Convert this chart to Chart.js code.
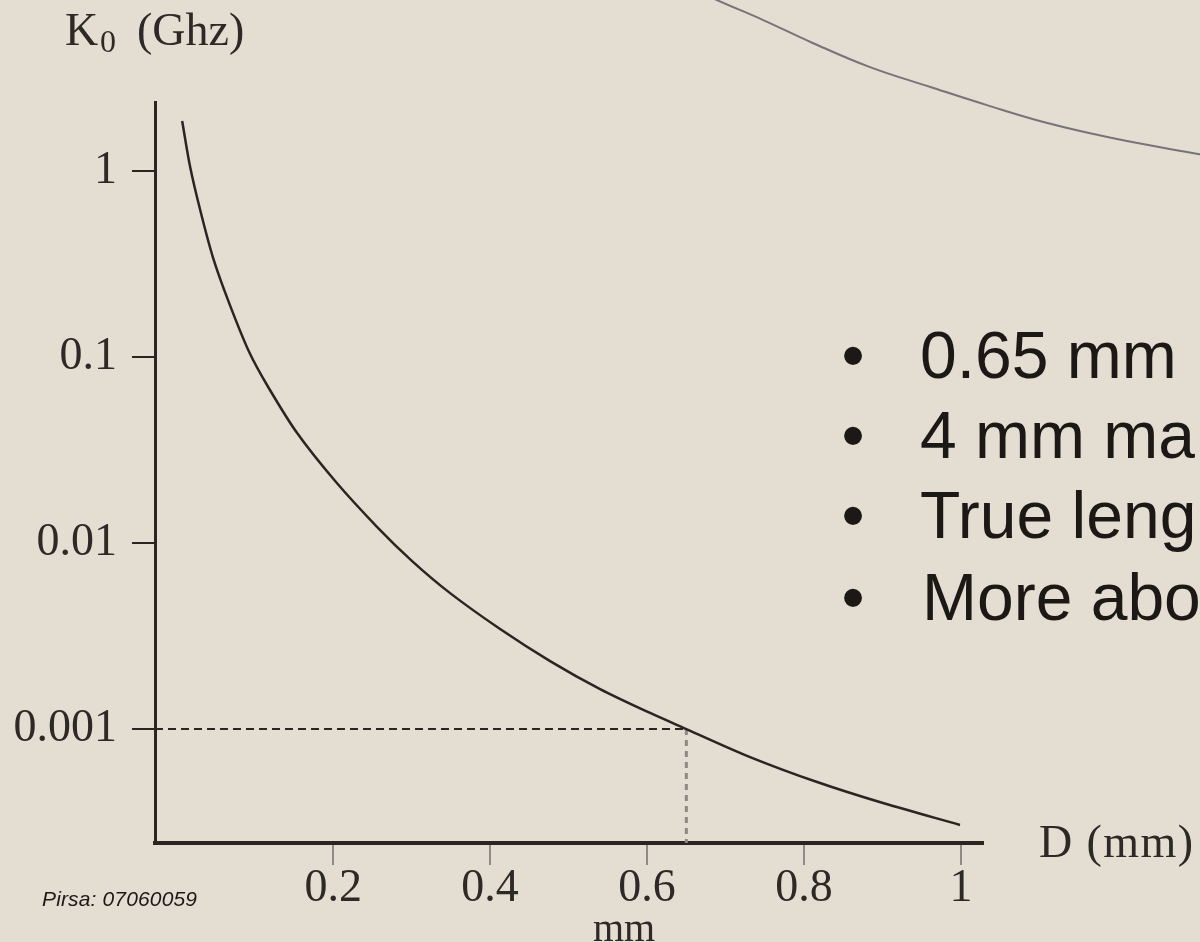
<!DOCTYPE html>
<html>
<head>
<meta charset="utf-8">
<script src="https://cdn.jsdelivr.net/npm/chart.js@4"></script>
<style>
  html, body { margin: 0; padding: 0; background: #e4ddd2; }
  #wrap { position: relative; width: 1200px; height: 942px; overflow: hidden; }
  #wrap canvas, #notes { position: absolute; left: 0; top: 0; }
  .serif { font-family: "Liberation Serif", "Times New Roman", serif; fill: #2d2926; }
  .sans { font-family: "Liberation Sans", Arial, sans-serif; fill: #1b1816; }
</style>
</head>
<body>
<div id="wrap">
  <canvas id="chart" width="1200" height="942"></canvas>
  <svg id="notes" width="1200" height="942">
    <text class="serif" y="45" font-size="46">
      <tspan x="65">K</tspan><tspan x="100" dy="7" font-size="32">0</tspan><tspan x="137" dy="-7">(Ghz)</tspan>
    </text>
    <text class="serif" x="1039" y="857" font-size="46" textLength="154">D (mm)</text>
    <text class="serif" x="593" y="941" font-size="40">mm</text>
    <text class="sans" x="42" y="906" font-size="21" font-style="italic" textLength="155">Pirsa: 07060059</text>

    <text class="sans" x="853" y="378" font-size="66" text-anchor="middle">•</text>
    <text class="sans" x="920" y="378" font-size="66">0.65 mm</text>
    <text class="sans" x="853" y="458" font-size="66" text-anchor="middle">•</text>
    <text class="sans" x="920" y="458" font-size="66">4 mm ma</text>
    <text class="sans" x="853" y="538" font-size="66" text-anchor="middle">•</text>
    <text class="sans" x="920" y="538" font-size="66">True leng</text>
    <text class="sans" x="853" y="620" font-size="66" text-anchor="middle">•</text>
    <text class="sans" x="922" y="620" font-size="66">More abo</text>
  </svg>
</div>
<script>
// curve: D (mm) vs K0 (GHz)
const dMm   = [0.0076, 0.0178, 0.0306, 0.0471, 0.0675, 0.093, 0.1172, 0.1541, 0.2025, 0.2561, 0.3006,
               0.349, 0.4127, 0.4764, 0.5401, 0.6038, 0.65, 0.7312, 0.8166, 0.9006, 0.9987];
const k0Ghz = [1.857, 1.051, 0.617, 0.3405, 0.195, 0.1064, 0.069, 0.039, 0.02154, 0.01219, 0.008,
               0.00538, 0.00345, 0.00232, 0.00164, 0.00122, 0.001, 0.000707, 0.000519, 0.0004, 0.000305];

// marked point (dashed guides)
const markD = 0.65;
const markK = 0.001;

// tick labels
const xTicks = [0.2, 0.4, 0.6, 0.8, 1];
const yTicks = [1, 0.1, 0.01, 0.001];

// piece of another figure at the top right of the slide
const arcD = [0.668, 0.689, 0.748, 0.811, 0.884, 0.961, 1.033, 1.110, 1.194, 1.304, 1.324];
const arcK = [9.17, 8.30, 6.48, 4.88, 3.62, 2.83, 2.26, 1.81, 1.50, 1.23, 1.19];

const X_MIN = -0.027, X_MAX = 1.028;
const Y_MIN = 0.000244, Y_MAX = 2.35;

const ink = '#2a2523';
const serifFont = { family: '"Liberation Serif", "Times New Roman", serif', size: 46 };

const toPoints = (xs, ys) => xs.map((x, i) => ({ x: x, y: ys[i] }));

new Chart(document.getElementById('chart'), {
  type: 'line',
  data: {
    datasets: [
      {
        data: toPoints(dMm, k0Ghz),
        borderColor: ink,
        borderWidth: 2.5,
        pointRadius: 0,
        tension: 0.3
      },
      {
        data: [{ x: X_MIN, y: markK }, { x: markD, y: markK }],
        borderColor: ink,
        borderWidth: 2,
        borderDash: [8, 5],
        pointRadius: 0
      },
      {
        data: [{ x: markD, y: markK }, { x: markD, y: Y_MIN }],
        borderColor: '#8c8884',
        borderWidth: 3,
        borderDash: [6, 5],
        pointRadius: 0
      },
      {
        data: toPoints(arcD, arcK),
        xAxisID: 'xa',
        yAxisID: 'ya',
        borderColor: '#77737a',
        borderWidth: 2,
        pointRadius: 0,
        tension: 0.4,
        clip: false
      }
    ]
  },
  options: {
    responsive: false,
    devicePixelRatio: 1,
    animation: false,
    layout: { padding: { left: 0, top: 102, right: 217, bottom: 0 } },
    plugins: { legend: { display: false }, tooltip: { enabled: false } },
    scales: {
      x: {
        type: 'linear',
        min: X_MIN,
        max: X_MAX,
        afterBuildTicks: s => { s.ticks = xTicks.map(v => ({ value: v })); },
        afterFit: s => { s.height = 99; },
        border: { color: ink, width: 4 },
        grid: { drawOnChartArea: false, tickLength: 22, color: '#8f8a86', lineWidth: 2 },
        ticks: {
          font: serifFont,
          color: '#2d2926',
          padding: -4,
          autoSkip: false,
          maxRotation: 0,
          callback: v => String(v)
        }
      },
      y: {
        type: 'logarithmic',
        min: Y_MIN,
        max: Y_MAX,
        afterBuildTicks: s => { s.ticks = yTicks.map(v => ({ value: v })); },
        afterFit: s => { s.width = 155; },
        border: { color: ink, width: 3 },
        grid: { drawOnChartArea: false, tickLength: 23, color: ink, lineWidth: 2 },
        ticks: {
          font: serifFont,
          color: '#2d2926',
          padding: 15,
          autoSkip: false,
          callback: v => String(v)
        }
      },
      xa: {
        type: 'linear',
        display: false,
        bounds: 'data',
        afterDataLimits: s => { s.min = X_MIN; s.max = X_MAX; }
      },
      ya: {
        type: 'logarithmic',
        display: false,
        bounds: 'data',
        afterDataLimits: s => { s.min = Y_MIN; s.max = Y_MAX; }
      }
    }
  }
});
</script>
</body>
</html>
